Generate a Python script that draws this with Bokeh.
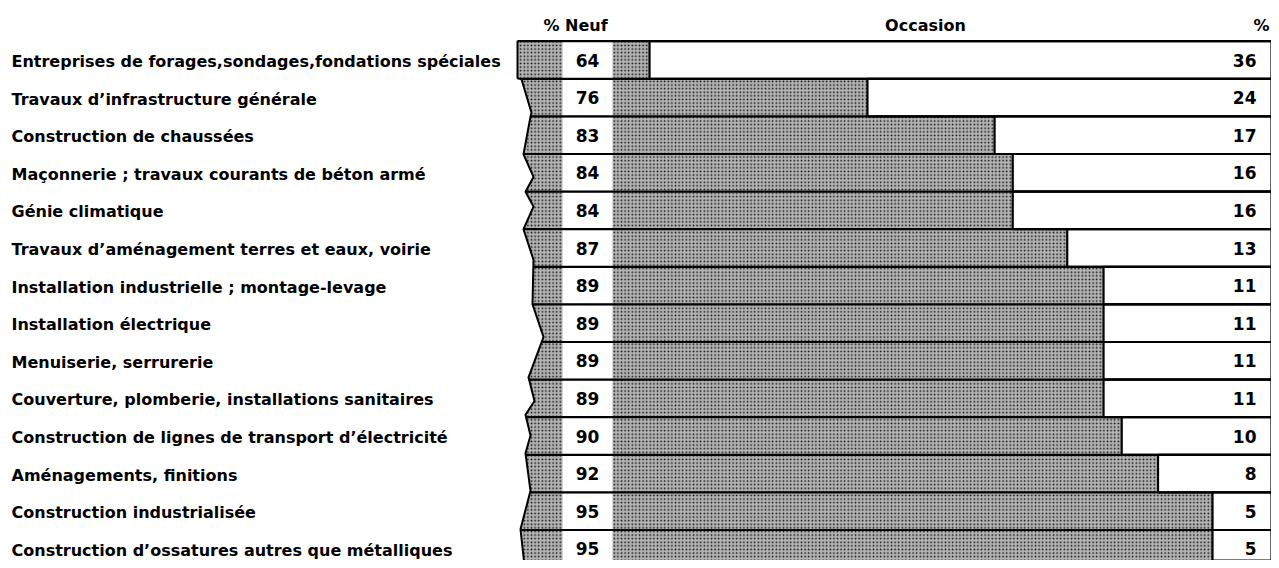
from bokeh.plotting import figure
from bokeh.models import Range1d
from bokeh.embed import file_html
from bokeh.resources import INLINE
from bokeh.core.properties import value

# ---------------- data ----------------
categories = [
    "Entreprises de forages,sondages,fondations spéciales",
    "Travaux d\u2019infrastructure générale",
    "Construction de chaussées",
    "Maçonnerie ; travaux courants de béton armé",
    "Génie climatique",
    "Travaux d\u2019aménagement terres et eaux, voirie",
    "Installation industrielle ; montage-levage",
    "Installation électrique",
    "Menuiserie, serrurerie",
    "Couverture, plomberie, installations sanitaires",
    "Construction de lignes de transport d\u2019électricité",
    "Aménagements, finitions",
    "Construction industrialisée",
    "Construction d\u2019ossatures autres que métalliques",
]
neuf = [64, 76, 83, 84, 84, 87, 89, 89, 89, 89, 90, 92, 95, 95]
occasion = [36, 24, 17, 16, 16, 13, 11, 11, 11, 11, 10, 8, 5, 5]
header_neuf = "% Neuf"
header_occ = "Occasion"
header_pct = "%"

# ---------------- layout ----------------
W, H = 1271, 560
PX = 18.16                  # pixels per percentage point
X0 = 86.14 - 1051.1 / PX
X1 = X0 + W / PX
ROW = 37.6
C0 = 59.5
Y_TOP = (0 - C0) / ROW
Y_BOT = (H - C0) / ROW

def fx(px):
    return X0 + px / PX

def fy(py):
    return (py - C0) / ROW

def fz(py):  # reference row units for the zigzag outline
    return (py - 59.5) / 38.1

rows = list(range(len(categories)))
tot = [n + o for n, o in zip(neuf, occasion)]

p = figure(width=W, height=H, output_backend="svg", toolbar_location=None,
           x_range=Range1d(X0, X1), y_range=Range1d(Y_BOT, Y_TOP),
           min_border=0, outline_line_color=None, background_fill_color="white")
p.axis.visible = False
p.grid.visible = False

FONT = value("DejaVu Sans")

# neuf (stippled) part
p.hbar(y=rows, left=fx(513), right=neuf, height=1.0,
       fill_color="#b4b4b4", line_color=None,
       hatch_pattern=".", hatch_color="#111111", hatch_scale=3.6, hatch_weight=3.0)

# white boxes holding the neuf values
p.hbar(y=rows, left=fx(562), right=fx(612), height=0.96,
       fill_color="white", line_color=None)

# occasion (white) part
p.hbar(y=rows, left=neuf, right=tot, height=1.0,
       fill_color="white", line_color="black", line_width=2.2)

# broken-axis zigzag at the left of the bars
zig = [(517, 40), (517, 78), (521, 79), (531, 113), (530, 117), (523, 155),
       (533, 178), (525, 193), (533, 208), (523, 231), (533, 262), (532, 307),
       (543, 340), (542, 343), (528, 381), (534, 405), (525, 419), (530, 440),
       (525, 458), (530, 496), (520, 535), (527, 600)]
zx = [fx(a) for a, b in zig]
zy = [fz(b) for a, b in zig]
p.patch(x=zx + [fx(510), fx(510)], y=zy + [zy[-1], zy[0]],
        fill_color="white", line_color=None)
p.line(x=zx, y=zy, line_color="black", line_width=2)

# row separators
ys = [r - 0.5 for r in rows] + [rows[-1] + 0.5]
zig_at = []
for yv in ys:
    best = min(zig, key=lambda t: abs(fz(t[1]) - yv))
    zig_at.append(fx(best[0]))
p.segment(x0=zig_at, y0=ys, x1=[X1 + 2] * len(ys), y1=ys,
          line_color="black", line_width=2.2)

# value labels
p.text(x=[fx(587)] * len(rows), y=rows, text=[str(v) for v in neuf],
       text_align="center", text_baseline="middle", text_font=FONT,
       text_font_style="bold", text_font_size="17px", text_color="black")
p.text(x=[fx(1256)] * len(rows), y=rows, text=[str(v) for v in occasion],
       text_align="right", text_baseline="middle", text_font=FONT,
       text_font_style="bold", text_font_size="17px", text_color="black")

# category labels
p.text(x=[fx(11)] * len(rows), y=[r + 0.04 for r in rows], text=categories,
       text_align="left", text_baseline="middle", text_font=FONT,
       text_font_style="bold", text_font_size="16px", text_color="black")

# headers
p.text(x=[fx(543)], y=[fy(25)], text=[header_neuf], text_align="left",
       text_baseline="middle", text_font=FONT, text_font_style="bold",
       text_font_size="16px", text_color="black")
p.text(x=[fx(925)], y=[fy(25)], text=[header_occ], text_align="center",
       text_baseline="middle", text_font=FONT, text_font_style="bold",
       text_font_size="16px", text_color="black")
p.text(x=[fx(1269)], y=[fy(25)], text=[header_pct], text_align="right",
       text_baseline="middle", text_font=FONT, text_font_style="bold",
       text_font_size="16px", text_color="black")

open("out.html", "w").write(file_html(p, INLINE))
